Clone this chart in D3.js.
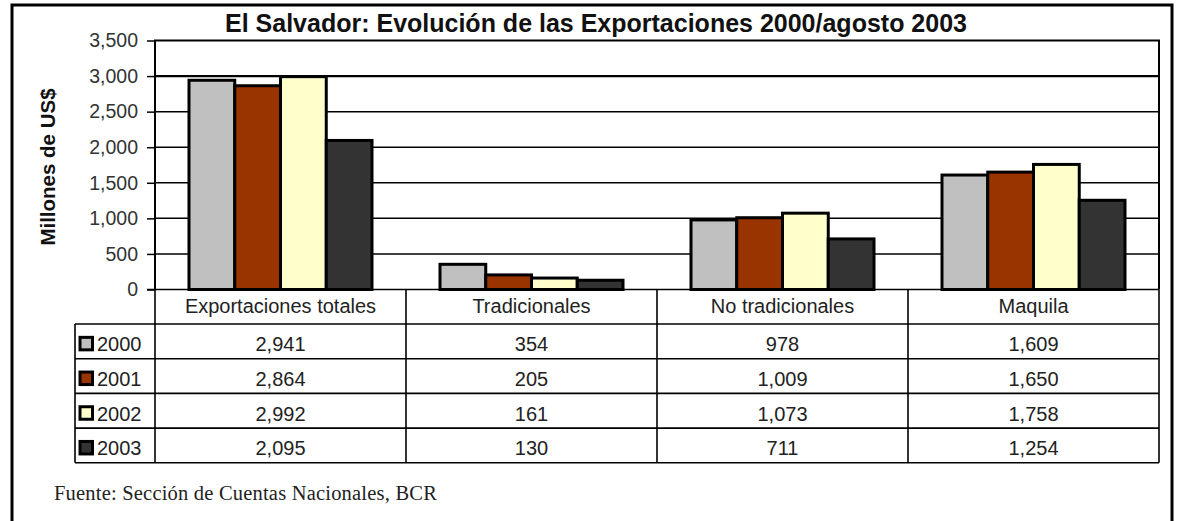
<!DOCTYPE html>
<html>
<head>
<meta charset="utf-8">
<script src="https://cdn.jsdelivr.net/npm/d3@7"></script>
<style>
  body { margin: 0; background: #fff; }
  svg { display: block; }
  text { font-family: "Liberation Sans", Arial, sans-serif; }
</style>
</head>
<body>
<svg id="chart" width="1178" height="521"></svg>
<script>
// data
const categories = ["Exportaciones totales", "Tradicionales", "No tradicionales", "Maquila"];
const years = ["2000", "2001", "2002", "2003"];
const v2000 = [2941, 354, 978, 1609];
const v2001 = [2864, 205, 1009, 1650];
const v2002 = [2992, 161, 1073, 1758];
const v2003 = [2095, 130, 711, 1254];
const yTicks = [0, 500, 1000, 1500, 2000, 2500, 3000, 3500];
const colors = ["#c0c0c0", "#993300", "#ffffcc", "#333333"];

const series = [v2000, v2001, v2002, v2003];

const svg = d3.select("#chart");

// outer frame
svg.append("path")
  .attr("d", "M12,521V5H1172V521")
  .attr("fill", "none").attr("stroke", "#000").attr("stroke-width", 3);

// title
svg.append("text")
  .attr("x", 596).attr("y", 32)
  .attr("text-anchor", "middle")
  .style("font-size", "25px").style("font-weight", "bold")
  .attr("fill", "#111")
  .text("El Salvador: Evolución de las Exportaciones 2000/agosto 2003");

const plotL = 155, plotR = 1159, plotT = 40.5, zeroY = 289.5;

const x = d3.scaleBand().domain(categories).range([plotL, plotR]);
const xi = d3.scaleBand().domain(years).range([34, 217]);
const y = d3.scaleLinear().domain([0, 3500]).range([zeroY, plotT]);

// gridlines
svg.append("g").selectAll("line")
  .data(yTicks.filter(d => d > 0 && d < 3500))
  .join("line")
  .attr("x1", plotL).attr("x2", plotR)
  .attr("y1", d => y(d)).attr("y2", d => y(d))
  .attr("stroke", "#000").attr("stroke-width", d => d === 3000 ? 2.2 : 1.5);

// y axis
const yAxis = svg.append("g")
  .attr("transform", `translate(${plotL},0)`)
  .call(d3.axisLeft(y).tickValues(yTicks).tickSize(8).tickPadding(9).tickFormat(d3.format(",")));
yAxis.select(".domain").remove();
yAxis.selectAll(".tick line").attr("stroke", "#000").attr("stroke-width", 1.5);
yAxis.selectAll(".tick text")
  .style("font-size", "19.5px").attr("fill", "#333")
  .attr("font-family", "'Liberation Sans', Arial, sans-serif");

// y title
svg.append("text")
  .attr("transform", "translate(55,167) rotate(-90)")
  .attr("text-anchor", "middle")
  .style("font-size", "20.5px").style("font-weight", "bold")
  .attr("fill", "#111")
  .text("Millones de US$");

// bars
const groups = svg.append("g").selectAll("g")
  .data(categories)
  .join("g")
  .attr("transform", d => `translate(${x(d)},0)`);

groups.selectAll("rect")
  .data((c, ci) => years.map((yr, k) => ({ yr, k, v: series[k][ci] })))
  .join("rect")
  .attr("x", d => xi(d.yr))
  .attr("width", xi.bandwidth())
  .attr("y", d => y(d.v))
  .attr("height", d => zeroY - y(d.v))
  .attr("fill", d => colors[d.k])
  .attr("stroke", "#000").attr("stroke-width", 3);

// plot frame
svg.append("path")
  .attr("d", `M${plotL},${zeroY}V${plotT}H${plotR}V${zeroY}`)
  .attr("fill", "none").attr("stroke", "#000").attr("stroke-width", 2);
svg.append("line")
  .attr("x1", plotL - 8).attr("x2", plotR)
  .attr("y1", zeroY).attr("y2", zeroY)
  .attr("stroke", "#000").attr("stroke-width", 1.5);

// data table
const rowTop = 324, rowH = 34.7, tableLeft = 75;
const rowY = d3.scaleBand().domain(years).range([rowTop, rowTop + rowH * 4]);
const tbl = svg.append("g").attr("stroke", "#000").attr("stroke-width", 1.6);

// category header lines
x.domain().forEach(c => {
  tbl.append("line").attr("x1", x(c)).attr("x2", x(c)).attr("y1", zeroY).attr("y2", rowTop + rowH * 4);
});
tbl.append("line").attr("x1", plotR).attr("x2", plotR).attr("y1", zeroY).attr("y2", rowTop + rowH * 4);
tbl.append("line").attr("x1", tableLeft).attr("x2", tableLeft).attr("y1", rowTop).attr("y2", rowTop + rowH * 4);
[...years.map(d => rowY(d)), rowTop + rowH * 4].forEach(yy => {
  tbl.append("line").attr("x1", tableLeft).attr("x2", plotR).attr("y1", yy).attr("y2", yy);
});

svg.append("g").selectAll("text")
  .data(categories)
  .join("text")
  .attr("x", d => x(d) + x.bandwidth() / 2)
  .attr("y", 313)
  .attr("text-anchor", "middle")
  .style("font-size", "20px").attr("fill", "#222")
  .text(d => d);

// legend keys + year labels
const rows = svg.append("g").selectAll("g")
  .data(years)
  .join("g")
  .attr("transform", d => `translate(0,${rowY(d)})`);

rows.append("rect")
  .attr("x", 80).attr("y", rowH / 2 - 4)
  .attr("width", 12.5).attr("height", 12.5)
  .attr("fill", (d, i) => colors[i])
  .attr("stroke", "#000").attr("stroke-width", 3);

rows.append("text")
  .attr("x", 97).attr("y", rowH / 2 + 10)
  .style("font-size", "20px").attr("fill", "#222")
  .text(d => d);

const fmt = d3.format(",");
rows.each(function (yr, k) {
  d3.select(this).selectAll("text.val")
    .data(series[k])
    .join("text")
    .attr("class", "val")
    .attr("x", (v, ci) => x(categories[ci]) + x.bandwidth() / 2)
    .attr("y", rowH / 2 + 10)
    .attr("text-anchor", "middle")
    .style("font-size", "20px").attr("fill", "#222")
    .text(v => fmt(v));
});

// source note
svg.append("text")
  .attr("x", 54).attr("y", 500)
  .style("font-family", "'Liberation Serif', 'Times New Roman', serif")
  .style("font-size", "20.5px").style("letter-spacing", "0.2px").attr("fill", "#222")
  .text("Fuente: Sección de Cuentas Nacionales, BCR");
</script>
</body>
</html>
